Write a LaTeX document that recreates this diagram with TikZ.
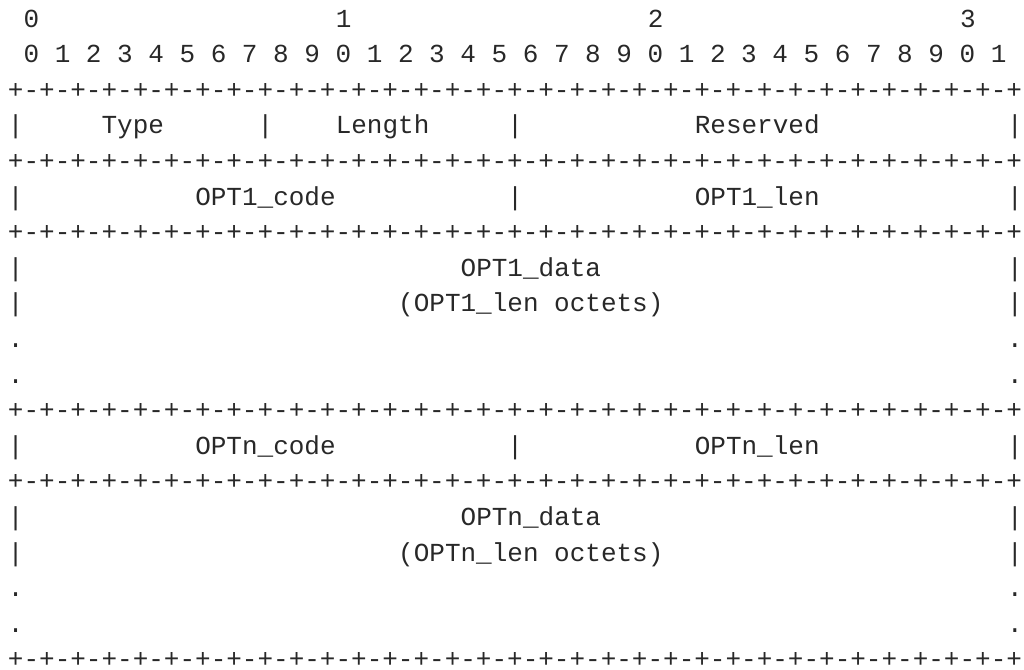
\documentclass[tikz,border=0pt]{standalone}
\usepackage{fontspec}
\setmonofont{Liberation Mono}
\usetikzlibrary{positioning}
\definecolor{inkgray}{RGB}{40,40,40}

\begin{document}
\begin{tikzpicture}[
    x=0.75pt,y=-0.75pt,
    mono/.style={anchor=base west,inner sep=0pt,text=inkgray,
      font=\fontsize{19.5}{24}\selectfont\ttfamily},
  ]
    \useasboundingbox (0,0) rectangle (1024,669);
    % column x, row baseline
    \def\cx#1{7.7+15.61*#1}
    \def\ry#1{27+35.6*#1}
    % bit numbers
    \node[mono] (tens0) at (\cx{1},\ry{0}) {0};
    \node[mono] (tens1) at (\cx{21},\ry{0}) {1};
    \node[mono] (tens2) at (\cx{41},\ry{0}) {2};
    \node[mono] (tens3) at (\cx{61},\ry{0}) {3};
    \node[mono] (bits) at (\cx{1},\ry{1})
      {0 1 2 3 4 5 6 7 8 9 0 1 2 3 4 5 6 7 8 9 0 1 2 3 4 5 6 7 8 9 0 1};
    % separator rows
    \foreach \r in {2,4,6,11,13,18}
      \node[mono] (sep\r) at (\cx{0},\ry{\r})
        {+-+-+-+-+-+-+-+-+-+-+-+-+-+-+-+-+-+-+-+-+-+-+-+-+-+-+-+-+-+-+-+-+};
    % outer bars
    \foreach \r in {3,5,7,8,12,14,15} {
      \node[mono] (lbar\r) at (\cx{0},\ry{\r}) {|};
      \node[mono] (rbar\r) at (\cx{64},\ry{\r}) {|};
    }
    % continuation dots
    \foreach \r in {9,10,16,17} {
      \node[mono] (ldot\r) at (\cx{0},\ry{\r}) {.};
      \node[mono] (rdot\r) at (\cx{64},\ry{\r}) {.};
    }
    % inner bars
    \node[mono] (bar3a) at (\cx{16},\ry{3}) {|};
    \node[mono] (bar3b) at (\cx{32},\ry{3}) {|};
    \node[mono] (bar5) at (\cx{32},\ry{5}) {|};
    \node[mono] (bar12) at (\cx{32},\ry{12}) {|};
    % header fields
    \node[mono] (type) at (\cx{6},\ry{3}) {Type};
    \node[mono] (length) at (\cx{21},\ry{3}) {Length};
    \node[mono] (reserved) at (\cx{44},\ry{3}) {Reserved};
    % first option
    \node[mono] (code1) at (\cx{12},\ry{5}) {OPT1\_code};
    \node[mono] (len1) at (\cx{44},\ry{5}) {OPT1\_len};
    \node[mono] (data1) at (\cx{29},\ry{7}) {OPT1\_data};
    \node[mono] (oct1) at (\cx{25},\ry{8}) {(OPT1\_len octets)};
    % last option
    \node[mono] (coden) at (\cx{12},\ry{12}) {OPTn\_code};
    \node[mono] (lenn) at (\cx{44},\ry{12}) {OPTn\_len};
    \node[mono] (datan) at (\cx{29},\ry{14}) {OPTn\_data};
    \node[mono] (octn) at (\cx{25},\ry{15}) {(OPTn\_len octets)};
  \end{tikzpicture}
\end{document}
